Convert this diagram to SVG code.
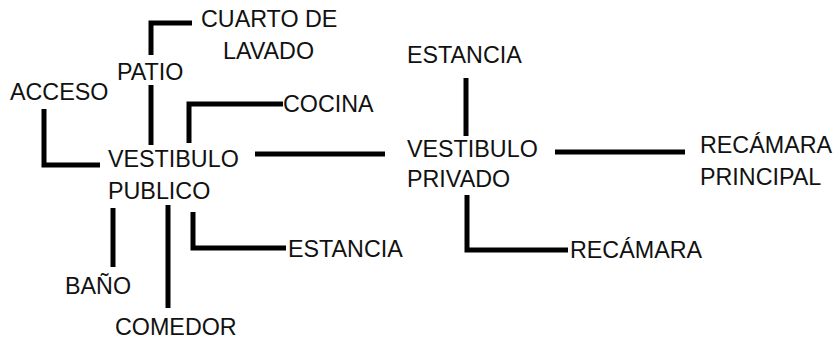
<svg xmlns="http://www.w3.org/2000/svg" width="835" height="339" viewBox="0 0 835 339">
<style>
.t{font-family:"Liberation Sans",Arial,sans-serif;font-size:23.3px;fill:#111}
.c{fill:none;stroke:#000;stroke-width:5;stroke-linecap:butt;stroke-linejoin:miter}
</style>
<rect width="835" height="339" fill="#fff"/>
<g id="connectors">
<path class="c" d="M192,23 H151 V55"/>
<path class="c" d="M151,85 V145"/>
<path class="c" d="M283,104 H189 V143"/>
<path class="c" d="M44,109 V165 H100"/>
<path class="c" d="M255,154 H385"/>
<path class="c" d="M113,208 V267"/>
<path class="c" d="M168,205 V308"/>
<path class="c" d="M193,212 V248 H286"/>
<path class="c" d="M466,78 V136"/>
<path class="c" d="M555,152 H685"/>
<path class="c" d="M467,195 V250 H568"/>
</g>
<g id="cuarto-de-lavado"><text class="t" x="201" y="27">CUARTO DE</text><text class="t" x="223" y="59">LAVADO</text></g>
<g id="patio"><text class="t" x="117" y="80">PATIO</text></g>
<g id="acceso"><text class="t" x="10" y="100">ACCESO</text></g>
<g id="cocina"><text class="t" x="283" y="112">COCINA</text></g>
<g id="vestibulo-publico"><text class="t" x="108" y="167">VESTIBULO</text><text class="t" x="108" y="199">PUBLICO</text></g>
<g id="bano"><text class="t" x="65" y="294">BAÑO</text></g>
<g id="comedor"><text class="t" x="115" y="335">COMEDOR</text></g>
<g id="estancia-1"><text class="t" x="288" y="257">ESTANCIA</text></g>
<g id="estancia-2"><text class="t" x="407" y="63">ESTANCIA</text></g>
<g id="vestibulo-privado"><text class="t" x="407" y="157">VESTIBULO</text><text class="t" x="407" y="187">PRIVADO</text></g>
<g id="recamara-principal"><text class="t" x="700" y="153">RECÁMARA</text><text class="t" x="700" y="185">PRINCIPAL</text></g>
<g id="recamara"><text class="t" x="570" y="258">RECÁMARA</text></g>
</svg>
